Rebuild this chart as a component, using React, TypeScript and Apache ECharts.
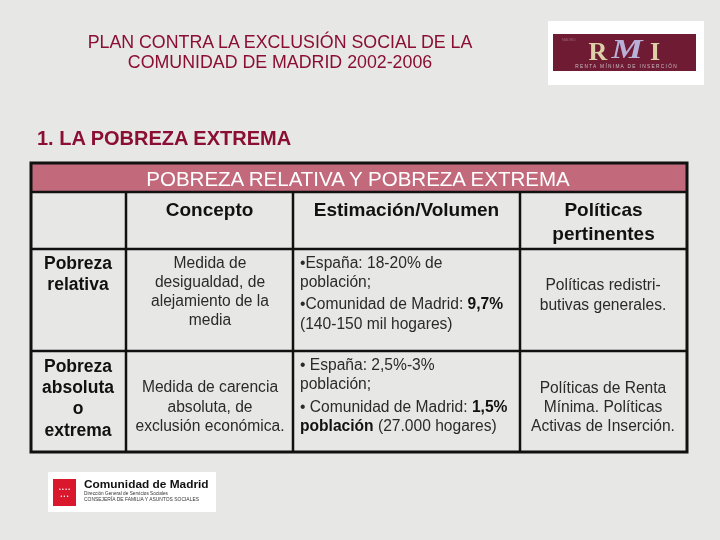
import React, { useEffect, useRef } from "react";
import * as echarts from "echarts";

const titleLines = ["PLAN CONTRA LA EXCLUSIÓN SOCIAL DE LA", "COMUNIDAD DE MADRID 2002-2006"];
const sectionTitle = "1. LA POBREZA EXTREMA";
const tableTitle = "POBREZA RELATIVA Y POBREZA EXTREMA";
const columnHeaders = [[""], ["Concepto"], ["Estimación/Volumen"], ["Políticas", "pertinentes"]];
const rowHeaders = [["Pobreza", "relativa"], ["Pobreza", "absoluta", "o", "extrema"]];
const conceptLines = [
  ["Medida de", "desigualdad, de", "alejamiento de la", "media"],
  ["Medida de carencia", "absoluta, de", "exclusión económica."],
];
// estimation lines: [normal, bold, normal]
const estimationLines: [string, string, string][][] = [
  [
    ["•España: 18-20% de", "", ""],
    ["población;", "", ""],
    ["•Comunidad de Madrid: ", "9,7%", ""],
    ["(140-150 mil hogares)", "", ""],
  ],
  [
    ["• España: 2,5%-3%", "", ""],
    ["población;", "", ""],
    ["• Comunidad de Madrid: ", "1,5%", ""],
    ["", "población", " (27.000 hogares)"],
  ],
];
const policyLines = [
  ["Políticas redistri-", "butivas generales."],
  ["Políticas de Renta", "Mínima. Políticas", "Activas de Inserción."],
];

const FONT = '"Liberation Sans", Arial, sans-serif';
const BURGUNDY = "#8a0f33";
const BODY = `15.6px ${FONT}`;

export default function App() {
  const ref = useRef<HTMLDivElement>(null);
  useEffect(() => {
    if (!ref.current) return;
    const chart = echarts.init(ref.current, undefined, { renderer: "svg" });
    const g: any[] = [];
    g.push({ type: "rect", shape: { x: 0, y: 0, width: 720, height: 540 }, style: { fill: "#e7e7e5" }, z: 0 });
    titleLines.forEach((t, i) =>
      g.push({ type: "text", x: 280, y: 42 + i * 20, style: { text: t, fill: BURGUNDY, font: `17.8px ${FONT}`, textAlign: "center", textVerticalAlign: "middle" }, z: 5 })
    );
    g.push({ type: "text", x: 37, y: 138, style: { text: sectionTitle, fill: BURGUNDY, font: `bold 20px ${FONT}`, textAlign: "left", textVerticalAlign: "middle" }, z: 5 });

    // RMI logo
    g.push({ type: "rect", shape: { x: 548, y: 21, width: 156, height: 64 }, style: { fill: "#ffffff" }, z: 2 });
    g.push({ type: "rect", shape: { x: 553, y: 34, width: 143, height: 37 }, style: { fill: "#6e1b33" }, z: 3 });
    g.push({ type: "text", x: 562, y: 40, style: { text: "MADRID", fill: "#9a6070", font: `3.5px ${FONT}`, textAlign: "left", textVerticalAlign: "middle" }, z: 4 });
    g.push({ type: "text", x: 598, y: 51, style: { text: "R", fill: "#ddd0a8", font: `bold 26px "Liberation Serif", serif`, textAlign: "center", textVerticalAlign: "middle" }, z: 4 });
    g.push({ type: "text", x: 627, y: 49, scaleX: 1.25, style: { text: "M", fill: "#b9b0d8", font: `italic bold 28px "Liberation Serif", serif`, textAlign: "center", textVerticalAlign: "middle" }, z: 4 });
    g.push({ type: "text", x: 655, y: 51, style: { text: "I", fill: "#ddd0a8", font: `bold 26px "Liberation Serif", serif`, textAlign: "center", textVerticalAlign: "middle" }, z: 4 });
    g.push({ type: "text", x: 626, y: 66, style: { text: "R E N T A   M Í N I M A   D E   I N S E R C I Ó N", fill: "#c9b9c0", font: `4.8px ${FONT}`, textAlign: "center", textVerticalAlign: "middle" }, z: 4 });

    // Comunidad de Madrid logo
    g.push({ type: "rect", shape: { x: 48, y: 472, width: 168, height: 40 }, style: { fill: "#ffffff" }, z: 2 });
    g.push({ type: "rect", shape: { x: 53, y: 479, width: 23, height: 27 }, style: { fill: "#d9182d" }, z: 3 });
    g.push({ type: "text", x: 64.5, y: 489, style: { text: "• • • •", fill: "#ffffff", font: `5px ${FONT}`, textAlign: "center", textVerticalAlign: "middle" }, z: 4 });
    g.push({ type: "text", x: 64.5, y: 496, style: { text: "• • •", fill: "#ffffff", font: `5px ${FONT}`, textAlign: "center", textVerticalAlign: "middle" }, z: 4 });
    g.push({ type: "text", x: 84, y: 484, scaleX: 1.08, style: { text: "Comunidad de Madrid", fill: "#111111", font: `bold 11px ${FONT}`, textAlign: "left", textVerticalAlign: "middle" }, z: 4 });
    g.push({ type: "text", x: 84, y: 494, scaleX: 1.05, style: { text: "Dirección General de Servicios Sociales", fill: "#333333", font: `4.5px ${FONT}`, textAlign: "left", textVerticalAlign: "middle" }, z: 4 });
    g.push({ type: "text", x: 84, y: 500, scaleX: 1.1, style: { text: "CONSEJERÍA DE FAMILIA Y ASUNTOS SOCIALES", fill: "#333333", font: `4.5px ${FONT}`, textAlign: "left", textVerticalAlign: "middle" }, z: 4 });

    // table geometry
    const xs = [31, 126, 293, 520, 687];
    const ys = [163, 192, 249, 351, 452];
    g.push({ type: "rect", shape: { x: xs[0], y: ys[0], width: xs[4] - xs[0], height: ys[1] - ys[0] }, style: { fill: "#c26a7c" }, z: 2 });
    [ys[1], ys[2], ys[3]].forEach((y) =>
      g.push({ type: "line", shape: { x1: xs[0], y1: y, x2: xs[4], y2: y }, style: { stroke: "#111111", lineWidth: 2.5 }, z: 6 })
    );
    [xs[1], xs[2], xs[3]].forEach((x) =>
      g.push({ type: "line", shape: { x1: x, y1: ys[1], x2: x, y2: ys[4] }, style: { stroke: "#111111", lineWidth: 2.5 }, z: 6 })
    );
    g.push({ type: "rect", shape: { x: xs[0], y: ys[0], width: xs[4] - xs[0], height: ys[4] - ys[0] }, style: { fill: "none", stroke: "#111111", lineWidth: 3 }, z: 7 });

    g.push({ type: "text", x: 358, y: 178, style: { text: tableTitle, fill: "#ffffff", font: `20.5px ${FONT}`, textAlign: "center", textVerticalAlign: "middle" }, z: 8 });

    const centers = xs.slice(0, 4).map((x, i) => (x + xs[i + 1]) / 2);
    columnHeaders.forEach((lines, c) =>
      lines.forEach((t, i) =>
        g.push({ type: "text", x: centers[c], y: 209 + i * 24, style: { text: t, fill: "#111111", font: `bold 19px ${FONT}`, textAlign: "center", textVerticalAlign: "middle" }, z: 8 })
      )
    );
    const rowHeaderY = [[263, 284], [366, 387, 408, 430]];
    rowHeaders.forEach((lines, r) =>
      lines.forEach((t, i) =>
        g.push({ type: "text", x: 78, y: rowHeaderY[r][i], style: { text: t, fill: "#111111", font: `bold 17.5px ${FONT}`, textAlign: "center", textVerticalAlign: "middle" }, z: 8 })
      )
    );
    const conceptY = [[262, 281, 300, 319], [386, 406, 425]];
    conceptLines.forEach((lines, r) =>
      lines.forEach((t, i) =>
        g.push({ type: "text", x: 210, y: conceptY[r][i], style: { text: t, fill: "#2a2a2a", font: BODY, textAlign: "center", textVerticalAlign: "middle" }, z: 8 })
      )
    );
    const estY = [[262, 281, 303, 323], [364, 383, 406, 425]];
    estimationLines.forEach((lines, r) =>
      lines.forEach(([a, b, c], i) => {
        const parts: string[] = [];
        if (a) parts.push(`{n|${a}}`);
        if (b) parts.push(`{b|${b}}`);
        if (c) parts.push(`{n|${c}}`);
        g.push({
          type: "text", x: 300, y: estY[r][i],
          style: {
            text: parts.join(""), textAlign: "left", textVerticalAlign: "middle",
            rich: {
              n: { fill: "#2a2a2a", font: BODY },
              b: { fill: "#111111", font: `bold 15.6px ${FONT}` },
            },
          },
          z: 8,
        });
      })
    );
    const polY = [[284, 304], [387, 406, 425]];
    policyLines.forEach((lines, r) =>
      lines.forEach((t, i) =>
        g.push({ type: "text", x: 603, y: polY[r][i], style: { text: t, fill: "#2a2a2a", font: BODY, textAlign: "center", textVerticalAlign: "middle" }, z: 8 })
      )
    );

    chart.setOption({ animation: false, graphic: { elements: g } });
    return () => chart.dispose();
  }, []);
  return <div ref={ref} style={{ position: "fixed", left: 0, top: 0, width: 720, height: 540 }} />;
}
